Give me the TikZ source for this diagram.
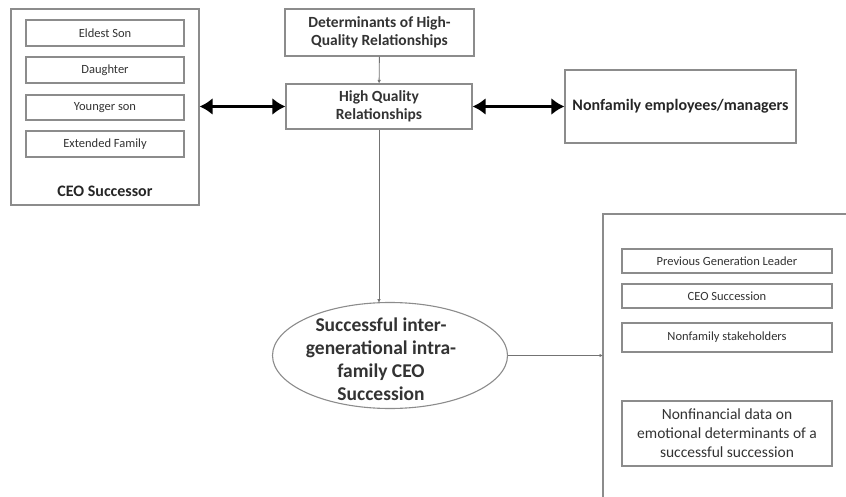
\documentclass[tikz,border=0pt]{standalone}
\usepackage{fontspec}
\setmainfont{Carlito}
\usetikzlibrary{shapes.geometric,arrows.meta,calc}
\begin{document}
\begin{tikzpicture}[x=1pt,y=-1pt,
  box/.style={draw=black!45,line width=1.1pt,rectangle,inner sep=0pt,text=black!80},
  itembox/.style={box,minimum width=158pt,minimum height=26pt,font=\fontsize{12.5}{14}\selectfont},
  ritem/.style={box,minimum width=210pt,minimum height=24pt,font=\fontsize{12.5}{14}\selectfont},
  bigtxt/.style={font=\bfseries\fontsize{15.5}{18}\selectfont,align=center},
  thin/.style={draw=black!55,line width=0.9pt,-{Latex[length=3.5pt,width=3.5pt]}},
  thick/.style={line width=3.6pt,{Latex[length=13pt,width=17pt]}-{Latex[length=13pt,width=17pt]}}
]
\useasboundingbox (0,0) rectangle (846,497);
\fill[white] (0,0) rectangle (846,497);

% CEO successor group
\node[box,minimum width=188pt,minimum height=196pt] (succ) at (105,107) {};
\node[itembox] (eldest) at (105,33) {Eldest Son};
\node[itembox] (daughter) at (105,70) {Daughter};
\node[itembox,minimum height=25pt] (younger) at (105,107.5) {Younger son};
\node[itembox] (extended) at (105,144) {Extended Family};
\node[font=\bfseries\fontsize{16}{18}\selectfont,text=black!85] (succlbl) at (105,191) {CEO Successor};

% central column
\node[box,minimum width=189pt,minimum height=47pt,bigtxt] (det) at (379.5,32.5) {Determinants of High-\\Quality Relationships};
\node[box,minimum width=186pt,minimum height=45pt,bigtxt] (hq) at (379,106.5) {High Quality\\Relationships};
\node[box,minimum width=231pt,minimum height=73pt,font=\bfseries\fontsize{16}{18}\selectfont,text=black!85] (nonfam) at (680.5,106.5) {Nonfamily employees/managers};

% outcome ellipse; its text sits a little left of centre
\node[draw=black!45,line width=1.1pt,ellipse,inner sep=0pt,minimum width=235pt,minimum height=106pt,
      label={[xshift=-9pt,yshift=-3.5pt,font=\bfseries\fontsize{19.5}{23}\selectfont,align=center,text=black!80]center:{Successful inter-\\generational intra-\\family CEO\\Succession}}]
  (succession) at (390,355.5) {};
\coordinate (elltop) at ($(succession.center)+(-11,-52.8)$);

% stakeholder panel (runs past the page edge)
\draw[draw=black!45,line width=1.1pt] (603,510) |- (870,214);
\coordinate (panelw) at (603,355.5);
\node[ritem] (prev) at (727,261) {Previous Generation Leader};
\node[ritem] (ceo) at (727,296) {CEO Succession};
\node[ritem,minimum height=29pt] (stake) at (727,337.5) {Nonfamily stakeholders};
\node[box,minimum width=210pt,minimum height=65pt,font=\fontsize{15.5}{19}\selectfont,align=center] (data) at (727,433.5)
  {Nonfinancial data on\\emotional determinants of a\\successful succession};

% connectors
\draw[thin] (det) -- (hq);
\draw[thin] (hq.south) -- (elltop);
\draw[thin] (succession.east) -- (panelw);
\draw[thick] (succ.east |- hq.west) -- (hq.west);
\draw[thick] (hq.east) -- (nonfam.west);
\end{tikzpicture}
\end{document}
